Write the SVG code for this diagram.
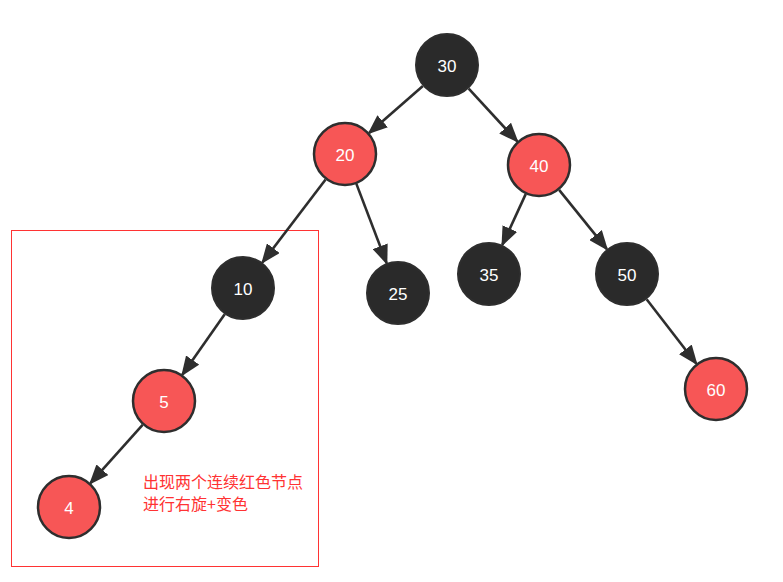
<svg xmlns="http://www.w3.org/2000/svg" width="783" height="582" viewBox="0 0 783 582">
<style>
.blk{fill:#2a2a2a;stroke:#2e2e2e;stroke-width:2}
.red{fill:#f75656;stroke:#2e2e2e;stroke-width:2.5}
.lbl{font-family:"Liberation Sans",Arial,sans-serif;font-size:17px;fill:#ffffff;text-anchor:middle;dominant-baseline:central}
.edge{stroke:#2e2e2e;stroke-width:2.6;fill:none;marker-end:url(#arr)}
.note{font-family:"Noto Sans CJK SC",sans-serif;font-size:16px;fill:#ff3333}
</style>
<defs>
<marker id="arr" markerUnits="userSpaceOnUse" markerWidth="20" markerHeight="16" refX="18" refY="8" orient="auto">
<path d="M0,0 L20,8 L0,16 z" fill="#2e2e2e"/>
</marker>
</defs>
<rect width="783" height="582" fill="#ffffff"/>
<rect id="highlight" x="11.5" y="230.5" width="307" height="336" fill="none" stroke="#ff3333" stroke-width="1"/>
<g id="connectors">
<line class="edge" x1="422.9" y1="86" x2="369.1" y2="133"/>
<line class="edge" x1="468.7" y1="88.6" x2="517.3" y2="141.4"/>
<line class="edge" x1="325.6" y1="179.5" x2="262.4" y2="262.5"/>
<line class="edge" x1="356.4" y1="183.9" x2="386.6" y2="263.1"/>
<line class="edge" x1="525.7" y1="194.1" x2="502.3" y2="244.9"/>
<line class="edge" x1="559.1" y1="189.9" x2="606.9" y2="249.1"/>
<line class="edge" x1="646.6" y1="299.3" x2="696.4" y2="363.7"/>
<line class="edge" x1="224.7" y1="314.2" x2="182.3" y2="374.8"/>
<line class="edge" x1="142.6" y1="424.8" x2="90.4" y2="483.2"/>
</g>
<g id="n30"><circle class="blk" cx="447" cy="65" r="31"/><text class="lbl" x="447" y="66">30</text></g>
<g id="n20"><circle class="red" cx="345" cy="154" r="31"/><text class="lbl" x="345" y="155">20</text></g>
<g id="n40"><circle class="red" cx="539" cy="165" r="31"/><text class="lbl" x="539" y="166">40</text></g>
<g id="n10"><circle class="blk" cx="243" cy="288" r="31"/><text class="lbl" x="243" y="289">10</text></g>
<g id="n25"><circle class="blk" cx="398" cy="293" r="31"/><text class="lbl" x="398" y="294">25</text></g>
<g id="n35"><circle class="blk" cx="489" cy="274" r="31"/><text class="lbl" x="489" y="275">35</text></g>
<g id="n50"><circle class="blk" cx="627" cy="274" r="31"/><text class="lbl" x="627" y="275">50</text></g>
<g id="n60"><circle class="red" cx="716" cy="389" r="31"/><text class="lbl" x="716" y="390">60</text></g>
<g id="n5"><circle class="red" cx="164" cy="401" r="31"/><text class="lbl" x="164" y="402">5</text></g>
<g id="n4"><circle class="red" cx="69" cy="507" r="31"/><text class="lbl" x="69" y="508">4</text></g>
<g id="note">
<text class="note" x="143" y="488">出现两个连续红色节点</text>
<text class="note" x="143" y="510">进行右旋+变色</text>
</g>
</svg>
